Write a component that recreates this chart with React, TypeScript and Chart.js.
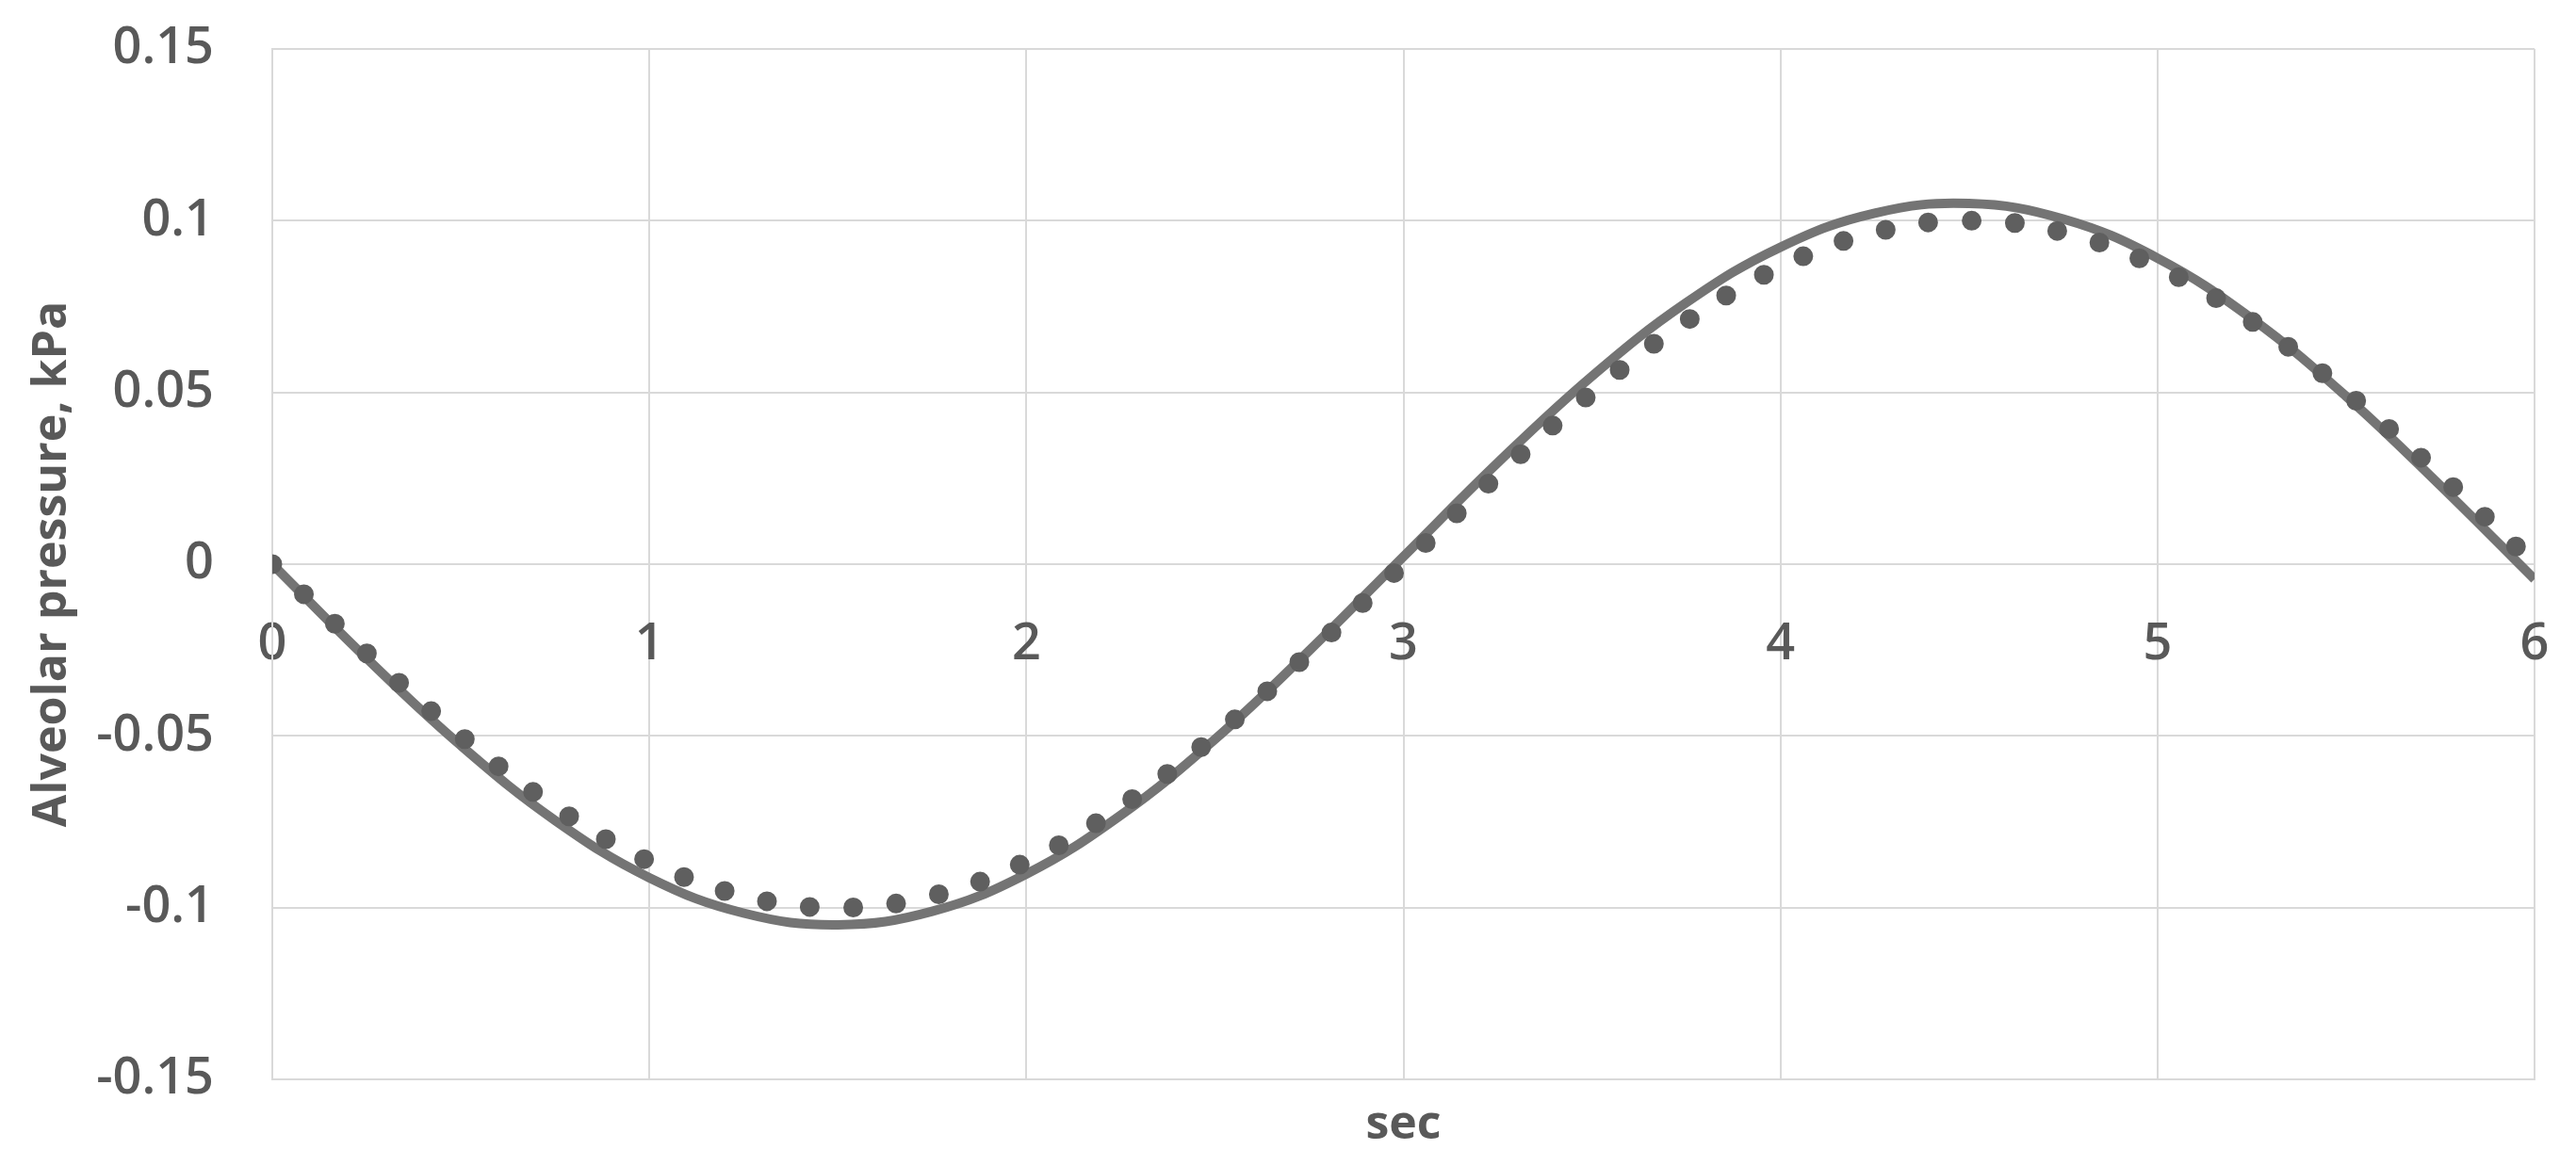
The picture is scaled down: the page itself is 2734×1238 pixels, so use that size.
import React, { useEffect, useRef } from "react";
import { Chart, registerables } from "chart.js";

Chart.register(...registerables);

const timeSec = [0, 0.25, 0.5, 0.75, 1, 1.25, 1.5, 1.75, 2, 2.25, 2.5, 2.75, 3, 3.25, 3.5, 3.75, 4, 4.25, 4.5, 4.75, 5, 5.25, 5.5, 5.75, 6];
const solidPressure = [0, -0.0274, -0.0528, -0.0746, -0.0913, -0.1016, -0.105, -0.1011, -0.0902, -0.0731, -0.051, -0.0252, 0.0022, 0.0295, 0.0547, 0.0761, 0.0923, 0.1022, 0.105, 0.1005, 0.0891, 0.0715, 0.0489, 0.0229, -0.0044];
const dottedPressure = [0, -0.0259, -0.05, -0.0707, -0.0866, -0.0966, -0.1, -0.0966, -0.0866, -0.0707, -0.05, -0.0259, 0, 0.0259, 0.05, 0.0707, 0.0866, 0.0966, 0.1, 0.0966, 0.0866, 0.0707, 0.05, 0.0259, 0];
const xTickValues = [0, 1, 2, 3, 4, 5, 6];
const xTickLabels = ["0", "1", "2", "3", "4", "5", "6"];
const yTickValues = [-0.15, -0.1, -0.05, 0, 0.05, 0.1, 0.15];
const yTickLabels = ["-0.15", "-0.1", "-0.05", "0", "0.05", "0.1", "0.15"];
const xTitle = "sec";
const yTitle = "Alveolar pressure, kPa";

const W = 2734;
const H = 1238;
const TEXT = "#595959";
const GRID = "#d9d9d9";
const FONT = "'Open Sans', 'Noto Sans', sans-serif";

export default function App() {
  const ref = useRef<HTMLCanvasElement | null>(null);

  useEffect(() => {
    if (!ref.current) return;
    const solid = timeSec.map((t, i) => ({ x: t, y: solidPressure[i] }));
    const dotted = timeSec.map((t, i) => ({ x: t, y: dottedPressure[i] }));
    const chart = new Chart(ref.current, {
      type: "line",
      data: {
        datasets: [
          {
            label: "dotted",
            data: dotted,
            borderColor: "#5f5f5f",
            borderWidth: 21,
            borderDash: [0, 46],
            borderCapStyle: "round",
            pointRadius: 0,
            tension: 0.4,
            fill: false,
          },
          {
            label: "solid",
            data: solid,
            borderColor: "#747474",
            borderWidth: 10,
            pointRadius: 0,
            tension: 0.4,
            fill: false,
          },
        ],
      },
      options: {
        animation: false,
        responsive: true,
        maintainAspectRatio: false,
        layout: { padding: { left: 0, top: 52, right: 44, bottom: 0 } },
        plugins: { legend: { display: false }, tooltip: { enabled: false } },
        scales: {
          x: {
            type: "linear",
            position: "bottom",
            min: 0,
            max: 6,
            afterBuildTicks: (s: any) => {
              s.ticks = xTickValues.map((v) => ({ value: v }));
            },
            afterFit: (s: any) => {
              s.height = 92;
              s.paddingLeft = 0;
              s.paddingRight = 0;
            },
            ticks: { display: false },
            grid: { color: GRID, lineWidth: 2, drawTicks: false },
            border: { color: GRID, width: 2 },
            title: {
              display: true,
              text: xTitle,
              color: TEXT,
              font: { family: FONT, size: 50, weight: "bold" },
              padding: { top: 0, bottom: 13 },
            },
          },
          x2: {
            type: "linear",
            axis: "x",
            position: { y: 0 },
            min: 0,
            max: 6,
            afterBuildTicks: (s: any) => {
              s.ticks = xTickValues.map((v) => ({ value: v }));
            },
            afterFit: (s: any) => {
              s.paddingLeft = 0;
              s.paddingRight = 0;
              s.paddingTop = 0;
              s.paddingBottom = 0;
            },
            ticks: {
              padding: 53,
              color: TEXT,
              font: { family: FONT, size: 54, weight: 600 },
              maxRotation: 0,
              autoSkip: false,
              callback: (_v: any, i: number) => xTickLabels[i],
            },
            grid: { display: false, drawTicks: false },
            border: { display: false },
          },
          y: {
            type: "linear",
            position: "left",
            min: -0.15,
            max: 0.15,
            afterBuildTicks: (s: any) => {
              s.ticks = yTickValues.map((v) => ({ value: v }));
            },
            afterFit: (s: any) => {
              s.width = 289;
              s.paddingTop = 0;
              s.paddingBottom = 0;
            },
            ticks: {
              padding: 62,
              color: TEXT,
              font: { family: FONT, size: 54, weight: 600 },
              autoSkip: false,
              callback: (_v: any, i: number) => yTickLabels[i],
            },
            grid: { color: GRID, lineWidth: 2, drawTicks: false },
            border: { color: GRID, width: 2 },
            title: {
              display: true,
              text: yTitle,
              color: TEXT,
              font: { family: FONT, size: 50, weight: "bold" },
              padding: { top: 26, bottom: 0 },
            },
          },
        },
      },
    });
    return () => chart.destroy();
  }, []);

  return (
    <div style={{ position: "absolute", left: 0, top: 0, width: W, height: H, background: "#fff" }}>
      <canvas ref={ref} />
    </div>
  );
}
